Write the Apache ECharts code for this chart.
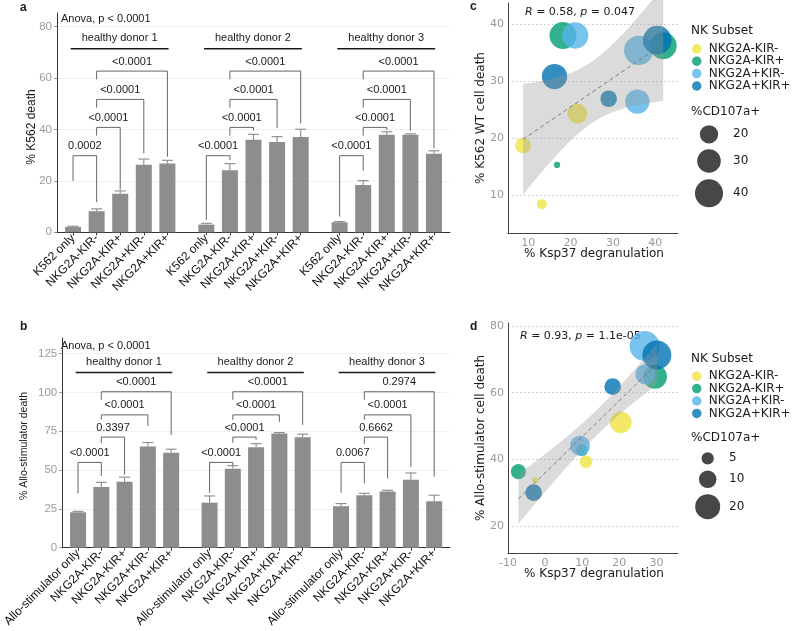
<!DOCTYPE html>
<html><head><meta charset="utf-8">
<script src="https://cdn.jsdelivr.net/npm/echarts@6/dist/echarts.min.js"></script>
<style>html,body{margin:0;padding:0;background:#fff}#c{width:793px;height:631px}</style>
</head><body><div id="c"></div>
<script>
// ---------- data ----------
const donors = ['healthy donor 1', 'healthy donor 2', 'healthy donor 3'];
const catsA = ['K562 only', 'NKG2A-KIR-', 'NKG2A-KIR+', 'NKG2A+KIR-', 'NKG2A+KIR+'];
const catsB = ['Allo-stimulator only', 'NKG2A-KIR-', 'NKG2A-KIR+', 'NKG2A+KIR-', 'NKG2A+KIR+'];

// panel a: % K562 death (mean, SEM) per donor
const meanA1 = [2.1, 8.2, 15.0, 26.3, 26.8];
const meanA2 = [3.0, 24.1, 36.0, 35.1, 37.1];
const meanA3 = [3.9, 18.4, 37.9, 37.9, 30.6];
const errA1 = [0.3, 0.9, 1.1, 2.2, 1.2];
const errA2 = [0.5, 2.6, 2.1, 2.1, 3.0];
const errA3 = [0.3, 1.7, 1.2, 0.4, 1.1];

// panel b: % Allo-stimulator death
const meanB1 = [22.8, 39.1, 42.5, 65.1, 61.2];
const meanB2 = [29.0, 50.9, 64.7, 73.5, 71.1];
const meanB3 = [26.7, 33.8, 36.1, 43.8, 29.9];
const errB1 = [0.6, 3.0, 2.9, 2.6, 2.2];
const errB2 = [4.3, 1.9, 2.3, 0.6, 2.0];
const errB3 = [1.7, 1.2, 0.9, 4.3, 3.9];

// significance brackets: [donor, from, to, level, leftEnd, rightEnd, label]
const bracketsA = [
  [0, 0, 1, 29.8, 20.0, 11.7, '0.0002'],
  [0, 1, 2, 40.8, 37.6, 16.6, '<0.0001'],
  [0, 1, 3, 51.7, 48.5, 30.7, '<0.0001'],
  [0, 1, 4, 62.7, 59.5, 29.4, '<0.0001'],
  [1, 0, 1, 29.8, 4.8, 28.1, '<0.0001'],
  [1, 1, 2, 40.8, 37.6, 39.6, '<0.0001'],
  [1, 1, 3, 51.7, 48.5, 40.5, '<0.0001'],
  [1, 1, 4, 62.7, 59.5, 42.4, '<0.0001'],
  [2, 0, 1, 29.8, 6.1, 24.0, '<0.0001'],
  [2, 1, 2, 40.8, 37.6, 39.8, '<0.0001'],
  [2, 1, 3, 51.7, 48.5, 39.5, '<0.0001'],
  [2, 1, 4, 62.7, 59.5, 32.7, '<0.0001']
];
const bracketsB = [
  [0, 0, 1, 54.9, 35.0, 46.2, '<0.0001'],
  [0, 1, 2, 71.2, 67.3, 47.0, '0.3397'],
  [0, 1, 3, 85.5, 82.3, 78.4, '<0.0001'],
  [0, 1, 4, 100.4, 95.2, 72.6, '<0.0001'],
  [1, 0, 1, 54.9, 35.4, 53.1, '<0.0001'],
  [1, 1, 2, 71.2, 67.5, 69.5, '<0.0001'],
  [1, 1, 3, 85.5, 82.3, 81.0, '<0.0001'],
  [1, 1, 4, 100.4, 95.2, 79.1, '<0.0001'],
  [2, 0, 1, 54.9, 35.4, 41.5, '0.0067'],
  [2, 1, 2, 71.2, 66.8, 44.5, '0.6662'],
  [2, 1, 3, 85.5, 82.3, 52.0, '<0.0001'],
  [2, 1, 4, 100.4, 95.2, 45.7, '0.2974']
];
const donorLineA = 71.4;   // y of 'healthy donor' bars, panel a
const donorLineB = 112.8;  // panel b

// panels c, d: [% Ksp37 degranulation, % cell death, %CD107a+]
const subsets = ['NKG2A-KIR-', 'NKG2A-KIR+', 'NKG2A+KIR-', 'NKG2A+KIR+'];
const cYellow = [[8.75, 18.7, 15.8], [13.2, 8.4, 8.3], [21.6, 24.3, 22.9]];
const cGreen  = [[16.8, 15.3, 4.7], [18.2, 38.0, 37.5], [41.9, 36.2, 37.5]];
const cLight  = [[21.1, 38.0, 35.9], [35.8, 26.4, 31.5], [36.1, 35.4, 43.1]];
const cDark   = [[16.2, 30.8, 33.6], [29.0, 26.9, 17.3], [40.5, 37.2, 41.5]];
const dYellow = [[-2.7, 33.8, 1.3], [11.0, 39.3, 5.3], [20.4, 51.1, 15.1]];
const dGreen  = [[-7.2, 36.3, 7.4], [9.9, 42.8, 4.8], [29.6, 64.8, 18.5]];
const dLight  = [[9.4, 44.1, 12.9], [26.8, 74.0, 28.6], [27.0, 65.5, 12.9]];
const dDark   = [[-3.1, 30.0, 9.1], [18.2, 61.8, 9.1], [30.1, 71.3, 26.8]];
const sizeLegendC = [20, 30, 40];
const sizeLegendD = [5, 10, 20];
const statC = ['R', ' = 0.58, ', 'p', ' = 0.047'];
const statD = ['R', ' = 0.93, ', 'p', ' = 1.1e-05'];

// ---------- layout / helpers ----------
const GROUP_STEP = 5.65;
const pos = (d, i) => 1 + i + d * GROUP_STEP;
const allPos = [];
for (let d = 0; d < 3; d++) for (let i = 0; i < 5; i++) allPos.push(pos(d, i));
const labelFor = cats => v => {
  for (let d = 0; d < 3; d++) for (let i = 0; i < 5; i++) if (Math.abs(pos(d, i) - v) < 1e-6) return cats[i];
  return '';
};
const SANS = '"Liberation Sans", Arial, sans-serif';
const DJV = '"DejaVu Sans", sans-serif';
const colors = ['#F0E442', '#009E73', '#56B4E9', '#0072B2'];
const sizeC = v => -5.1 + 5.24 * Math.sqrt(v);
const sizeD = v => -0.4 + 5.68 * Math.sqrt(v);

function barData(means) {
  const out = [];
  means.forEach((m, d) => m.forEach((v, i) => out.push([pos(d, i), v])));
  return out;
}
function errData(means, errs) {
  const out = [];
  means.forEach((m, d) => m.forEach((v, i) => out.push([pos(d, i), v, v + errs[d][i]])));
  return out;
}
function errSeries(ax, means, errs) {
  return {
    type: 'custom', xAxisIndex: ax, yAxisIndex: ax, silent: true, z: 3,
    data: errData(means, errs),
    renderItem(params, api) {
      const p0 = api.coord([api.value(0), api.value(1)]);
      const p1 = api.coord([api.value(0), api.value(2)]);
      const hw = 5.5;
      return { type: 'group', children: [
        { type: 'line', shape: { x1: p0[0], y1: p0[1], x2: p1[0], y2: p1[1] }, style: { stroke: '#8a8a8a', lineWidth: 1.1 } },
        { type: 'line', shape: { x1: p1[0] - hw, y1: p1[1], x2: p1[0] + hw, y2: p1[1] }, style: { stroke: '#8a8a8a', lineWidth: 1.1 } }
      ] };
    }
  };
}
function bracketSeries(ax, rows) {
  return {
    type: 'custom', xAxisIndex: ax, yAxisIndex: ax, silent: true, z: 5,
    data: rows.map(r => [pos(r[0], r[1]), r[3], pos(r[0], r[2]), r[4], r[5]]),
    renderItem(params, api) {
      const r = rows[params.dataIndex];
      const x1 = api.value(0), lv = api.value(1), x2 = api.value(2);
      const a = api.coord([x1, api.value(3)]), b = api.coord([x1, lv]);
      const c = api.coord([x2, lv]), d = api.coord([x2, api.value(4)]);
      return { type: 'group', children: [
        { type: 'polyline', shape: { points: [a, b, c, d] }, style: { stroke: '#555', lineWidth: 0.9, fill: null } },
        { type: 'text', x: (b[0] + c[0]) / 2, y: b[1] - 9.5,
          style: { text: r[6], font: '11px ' + SANS, fill: '#1a1a1a', align: 'center', verticalAlign: 'middle' } }
      ] };
    }
  };
}
function donorSeries(ax, yLevel) {
  return {
    type: 'custom', xAxisIndex: ax, yAxisIndex: ax, silent: true, z: 5,
    data: donors.map((n, d) => [pos(d, 0) - 0.1, yLevel, pos(d, 4) + 0.05]),
    renderItem(params, api) {
      const a = api.coord([api.value(0), api.value(1)]);
      const b = api.coord([api.value(2), api.value(1)]);
      return { type: 'group', children: [
        { type: 'line', shape: { x1: a[0], y1: a[1], x2: b[0], y2: b[1] }, style: { stroke: '#1a1a1a', lineWidth: 1.6 } },
        { type: 'text', x: (a[0] + b[0]) / 2, y: a[1] - 10.5,
          style: { text: donors[params.dataIndex], font: '11px ' + SANS, fill: '#1a1a1a', align: 'center', verticalAlign: 'middle' } }
      ] };
    }
  };
}
function fit(pts) {
  const n = pts.length;
  const mx = pts.reduce((s, p) => s + p[0], 0) / n;
  const my = pts.reduce((s, p) => s + p[1], 0) / n;
  let sxx = 0, sxy = 0;
  pts.forEach(p => { sxx += (p[0] - mx) ** 2; sxy += (p[0] - mx) * (p[1] - my); });
  const b = sxy / sxx, a = my - b * mx;
  let sse = 0;
  pts.forEach(p => { sse += (p[1] - a - b * p[0]) ** 2; });
  const s = Math.sqrt(sse / (n - 2));
  const t = 2.228; // t(0.975, df = 10)
  const xs = pts.map(p => p[0]);
  const x0 = Math.min(...xs), x1 = Math.max(...xs);
  const line = [], band = [];
  for (let k = 0; k <= 80; k++) {
    const x = x0 + (x1 - x0) * k / 80;
    const y = a + b * x;
    const h = t * s * Math.sqrt(1 / n + (x - mx) ** 2 / sxx);
    line.push([x, y]);
    band.push([x, y - h, y + h]);
  }
  return { line, band };
}
function bandSeries(ax, band) {
  return {
    type: 'custom', xAxisIndex: ax, yAxisIndex: ax, silent: true, z: 4,
    data: [band[0]],
    renderItem(params, api) {
      const up = band.map(p => api.coord([p[0], p[2]]));
      const lo = band.map(p => api.coord([p[0], p[1]])).reverse();
      return { type: 'polygon', shape: { points: up.concat(lo) }, style: { fill: 'rgba(153,153,153,0.35)' } };
    }
  };
}
function scatterSeries(ax, sets, sizeFn) {
  return sets.map((pts, k) => ({
    type: 'scatter', name: subsets[k], xAxisIndex: ax, yAxisIndex: ax, z: 3,
    data: pts,
    symbolSize: v => sizeFn(v[2]),
    itemStyle: { color: colors[k], opacity: 0.8 },
    emphasis: { disabled: true }
  }));
}

const cSets = [cYellow, cGreen, cLight, cDark];
const dSets = [dYellow, dGreen, dLight, dDark];
const fitC = fit([].concat(...cSets));
const fitD = fit([].concat(...dSets));

// ---------- axes ----------
const catXAxis = (gi, cats) => ({
  type: 'value', gridIndex: gi, min: 0.32, max: 16.98,
  axisLine: { onZero: false, lineStyle: { color: '#333', width: 1 } },
  axisTick: { customValues: allPos, length: 3, lineStyle: { color: '#333' } },
  axisLabel: { customValues: allPos, formatter: labelFor(cats), rotate: 45, margin: 4,
    fontFamily: SANS, fontSize: 12, color: '#111' },
  splitLine: { show: false }
});
const barYAxis = (gi, max, ticks) => ({
  type: 'value', gridIndex: gi, min: 0, max: max,
  axisLine: { show: true, onZero: false, lineStyle: { color: '#333', width: 1 } },
  axisTick: { show: true, customValues: ticks, length: 3, lineStyle: { color: '#999' } },
  axisLabel: { customValues: ticks, margin: 5, fontFamily: SANS, fontSize: 11.5, color: '#9a9a9a' },
  splitLine: { show: true, lineStyle: { color: '#ececec', width: 0.8 } }
});
const scX = (gi, min, max, ticks) => ({
  type: 'value', gridIndex: gi, min, max,
  axisLine: { onZero: false, lineStyle: { color: '#444', width: 1 } },
  axisTick: { show: false, customValues: ticks },
  axisLabel: { customValues: ticks, margin: 4, fontFamily: DJV, fontSize: 11, color: '#999' },
  splitLine: { show: false }
});
const scY = (gi, min, max, ticks) => ({
  type: 'value', gridIndex: gi, min, max,
  axisLine: { show: true, onZero: false, lineStyle: { color: '#444', width: 1 } },
  axisTick: { show: false, customValues: ticks },
  axisLabel: { customValues: ticks, margin: 4, fontFamily: DJV, fontSize: 11, color: '#999' },
  splitLine: { show: true, lineStyle: { color: '#c8c8c8', type: [1.5, 2.5], width: 1 } }
});

// ---------- graphics (text annotations, legend keys) ----------
const txt = (x, y, text, font, opts = {}) => Object.assign({
  type: 'text', x, y, silent: true,
  style: Object.assign({ text, font, fill: '#1a1a1a', align: 'left', verticalAlign: 'middle' }, opts.style || {})
}, opts.el || {});
const rot = Math.PI / 2;
const graphics = [
  txt(20, 8, 'a', 'bold 12px ' + SANS),
  txt(20, 327, 'b', 'bold 12px ' + SANS),
  txt(470, 7, 'c', 'bold 12px ' + SANS),
  txt(470, 327, 'd', 'bold 12px ' + SANS),
  txt(61, 19, 'Anova, p < 0.0001', '11px ' + SANS),
  txt(61, 346, 'Anova, p < 0.0001', '11px ' + SANS),
  txt(32, 127, '% K562 death', '12px ' + SANS, { style: { align: 'center' }, el: { rotation: rot } }),
  txt(24, 446, '% Allo-stimulator death', '10.5px ' + SANS, { style: { align: 'center' }, el: { rotation: rot } }),
  txt(481, 118, '% K562 WT cell death', '12px ' + DJV, { style: { align: 'center' }, el: { rotation: rot } }),
  txt(481, 438, '% Allo-stimulator cell death', '12px ' + DJV, { style: { align: 'center' }, el: { rotation: rot } }),
  txt(594, 254, '% Ksp37 degranulation', '12px ' + DJV, { style: { align: 'center' } }),
  txt(594, 574, '% Ksp37 degranulation', '12px ' + DJV, { style: { align: 'center' } }),
  txt(691, 31, 'NK Subset', '12px ' + DJV),
  txt(691, 359, 'NK Subset', '12px ' + DJV),
  txt(691, 112, '%CD107a+', '12px ' + DJV),
  txt(691, 438, '%CD107a+', '12px ' + DJV)
];
function statText(x, y, parts) {
  return { type: 'text', x, y, silent: true, style: {
    text: '{i|' + parts[0] + '}' + parts[1] + '{i|' + parts[2] + '}' + parts[3],
    font: '11px ' + DJV, fill: '#1a1a1a', verticalAlign: 'middle',
    rich: { i: { fontStyle: 'italic', fontFamily: DJV, fontSize: 11, fill: '#1a1a1a' } } } };
}
graphics.push(statText(525, 12.5, statC));
graphics.push(statText(520, 336, statD));
const sizeKeyYC = [134.3, 161, 193.3];
const sizeKeyYD = [458.3, 479.3, 506.7];
sizeLegendC.forEach((v, k) => {
  graphics.push({ type: 'circle', silent: true, shape: { cx: 709, cy: sizeKeyYC[k], r: sizeC(v) / 2 }, style: { fill: 'rgba(30,30,30,0.82)' } });
  graphics.push(txt(733, sizeKeyYC[k], String(v), '12px ' + DJV));
});
sizeLegendD.forEach((v, k) => {
  graphics.push({ type: 'circle', silent: true, shape: { cx: 707.7, cy: sizeKeyYD[k], r: sizeD(v) / 2 }, style: { fill: 'rgba(30,30,30,0.82)' } });
  graphics.push(txt(729, sizeKeyYD[k], String(v), '12px ' + DJV));
});

const legendBase = {
  orient: 'vertical', icon: 'circle', itemWidth: 10, itemHeight: 9.5, itemGap: 0.4,
  selectedMode: false, data: subsets, padding: 0,
  textStyle: { fontFamily: DJV, fontSize: 12, lineHeight: 11, color: '#222', padding: [0, 0, 0, 2] }
};

const option = {
  animation: false,
  backgroundColor: '#fff',
  grid: [
    { left: 57, top: 13, width: 393, height: 219.3 },
    { left: 57, top: 338, width: 393, height: 209.7 },
    { left: 508, top: 3, width: 170, height: 230.3 },
    { left: 508, top: 323, width: 170, height: 230.3 }
  ],
  xAxis: [
    catXAxis(0, catsA),
    catXAxis(1, catsB),
    scX(2, 5.2, 45.4, [10, 20, 30, 40]),
    scX(3, -10, 35.8, [-10, 0, 10, 20, 30])
  ],
  yAxis: [
    barYAxis(0, 85.3, [0, 20, 40, 60, 80]),
    barYAxis(1, 135, [0, 25, 50, 75, 100, 125]),
    scY(2, 3.3, 43.7, [10, 20, 30, 40]),
    scY(3, 11.8, 80.9, [20, 40, 60, 80])
  ],
  legend: [
    Object.assign({ left: 692, top: 42.8 }, legendBase),
    Object.assign({ left: 692, top: 370.2 }, legendBase)
  ],
  graphic: graphics,
  series: [
    { type: 'bar', xAxisIndex: 0, yAxisIndex: 0, barWidth: 16, silent: true,
      itemStyle: { color: '#8d8d8d' }, data: barData([meanA1, meanA2, meanA3]) },
    errSeries(0, [meanA1, meanA2, meanA3], [errA1, errA2, errA3]),
    bracketSeries(0, bracketsA),
    donorSeries(0, donorLineA),
    { type: 'bar', xAxisIndex: 1, yAxisIndex: 1, barWidth: 16, silent: true,
      itemStyle: { color: '#8d8d8d' }, data: barData([meanB1, meanB2, meanB3]) },
    errSeries(1, [meanB1, meanB2, meanB3], [errB1, errB2, errB3]),
    bracketSeries(1, bracketsB),
    donorSeries(1, donorLineB),
    ...scatterSeries(2, cSets, sizeC),
    bandSeries(2, fitC.band),
    { type: 'line', xAxisIndex: 2, yAxisIndex: 2, data: fitC.line, symbol: 'none', silent: true, z: 5,
      lineStyle: { color: '#6f6f6f', width: 0.9, type: [4, 3] } },
    ...scatterSeries(3, dSets, sizeD),
    bandSeries(3, fitD.band),
    { type: 'line', xAxisIndex: 3, yAxisIndex: 3, data: fitD.line, symbol: 'none', silent: true, z: 5,
      lineStyle: { color: '#6f6f6f', width: 0.9, type: [4, 3] } }
  ]
};
const chart = echarts.init(document.getElementById('c'), null, { renderer: 'canvas' });
chart.setOption(option);
</script></body></html>
